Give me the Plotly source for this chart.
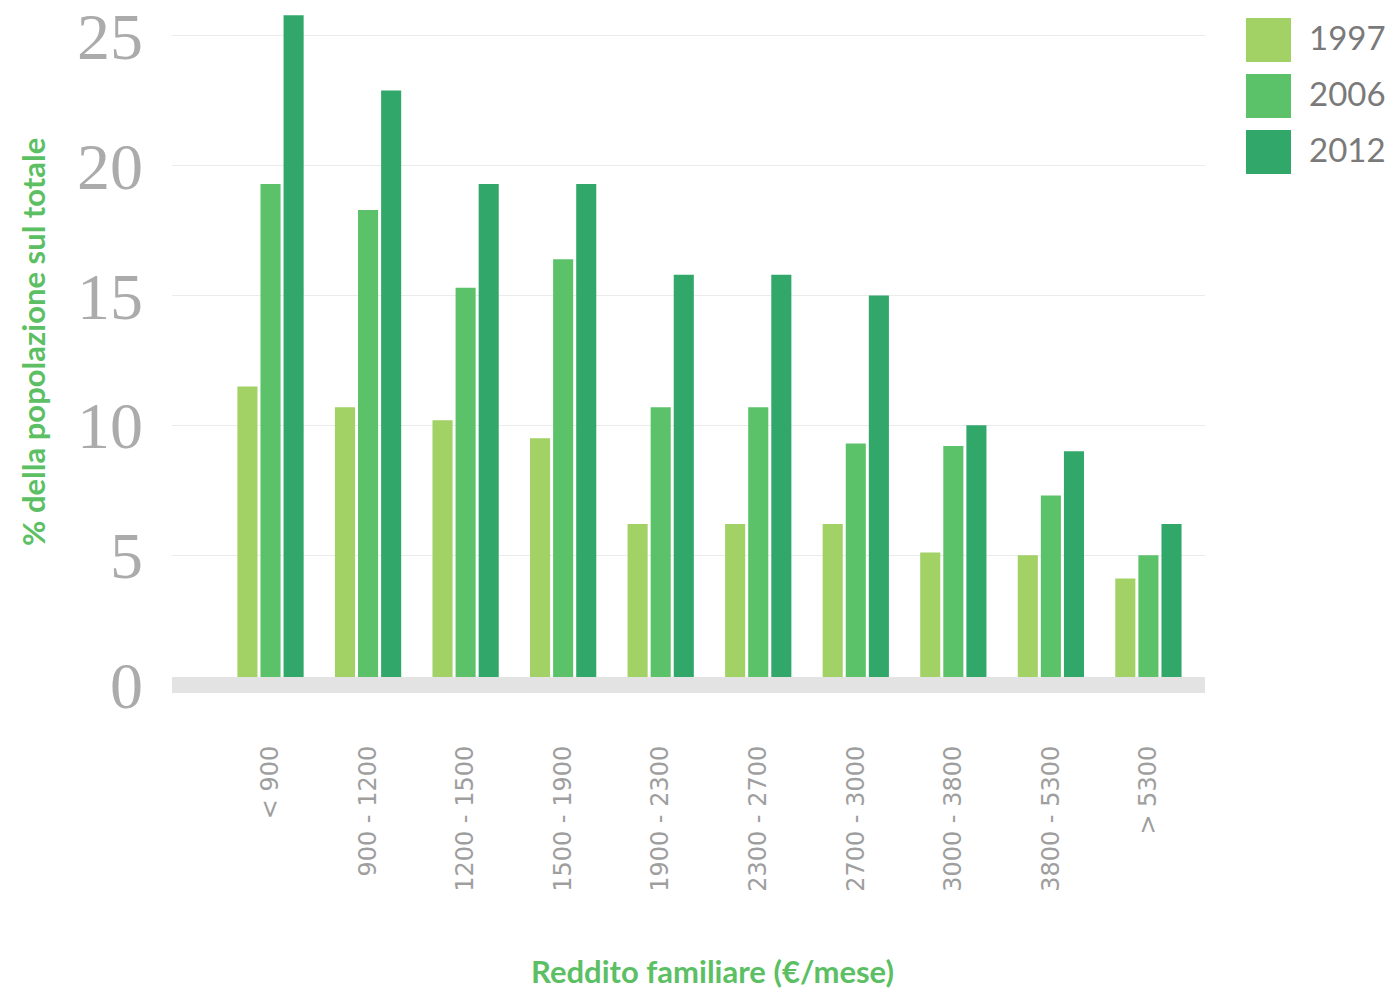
import plotly.graph_objects as go

# Income brackets (EUR per month) and share of population per survey year
categories = ["< 900", "900 - 1200", "1200 - 1500", "1500 - 1900", "1900 - 2300",
              "2300 - 2700", "2700 - 3000", "3000 - 3800", "3800 - 5300", "> 5300"]
years = ["1997", "2006", "2012"]
values_1997 = [11.5, 10.7, 10.2, 9.5, 6.2, 6.2, 6.2, 5.1, 5.0, 4.1]
values_2006 = [19.3, 18.3, 15.3, 16.4, 10.7, 10.7, 9.3, 9.2, 7.3, 5.0]
values_2012 = [25.8, 22.9, 19.3, 19.3, 15.8, 15.8, 15.0, 10.0, 9.0, 6.2]
y_ticks = [0, 5, 10, 15, 20, 25]

colors = ["#a2d165", "#5cc26a", "#31a86a"]
series = [values_1997, values_2006, values_2012]

W, H = 1394, 990
L, R, T, B = 172, 189, 10, 290
PW, PH = W - L - R, H - T - B


def px(x):
    return (x - L) / PW


def py(y):
    return (H - B - y) / PH


fig = go.Figure()
for name, vals, col in zip(years, series, colors):
    fig.add_trace(go.Bar(x=categories, y=vals, name=name, marker_color=col,
                         marker_line_width=0, showlegend=False))

shapes = [
    # thick baseline at zero
    dict(type="line", xref="paper", yref="y", x0=0, x1=1, y0=0, y1=0,
         line=dict(color="#e3e3e3", width=16), layer="above"),
]
annotations = []
# legend drawn as large swatches with labels
for i, (name, col) in enumerate(zip(years, colors)):
    top = 18 + i * 56
    shapes.append(dict(type="rect", xref="paper", yref="paper",
                       x0=px(1246), x1=px(1291), y0=py(top + 44), y1=py(top),
                       fillcolor=col, line_width=0))
    annotations.append(dict(text=name, xref="paper", yref="paper",
                            x=px(1307), y=py(top + 19), xanchor="left", yanchor="middle",
                            showarrow=False, font=dict(family="Lato", size=33, color="#7a7a7a")))

annotations.append(dict(text="<b>% della popolazione sul totale</b>", xref="paper", yref="paper",
                        x=px(33), y=py(342), textangle=-90, showarrow=False,
                        xanchor="center", yanchor="middle",
                        font=dict(family="Lato", size=31, color="#5cbf64")))
annotations.append(dict(text="<b>Reddito familiare (€/mese)</b>", xref="paper", yref="paper",
                        x=px(712), y=py(971), showarrow=False,
                        xanchor="center", yanchor="middle",
                        font=dict(family="Lato", size=31, color="#5cbf64")))

fig.update_layout(
    width=W, height=H,
    margin=dict(l=L, r=R, t=T, b=B, autoexpand=False),
    paper_bgcolor="white", plot_bgcolor="white",
    barmode="group", bargap=0.29, bargroupgap=0.13,
    shapes=shapes, annotations=annotations,
    xaxis=dict(type="category", range=[-1.01, 9.58], tickangle=-90,
               showgrid=False, zeroline=False, showline=False, ticks="",
               ticklabelstandoff=40,
               tickfont=dict(family="DejaVu Sans", size=24, color="#9e9e9e")),
    yaxis=dict(range=[-0.58, 26.0], tickvals=y_ticks, showgrid=True,
               gridcolor="#ebebeb", gridwidth=1, zeroline=False, showline=False,
               ticks="", ticklabelstandoff=28,
               tickfont=dict(family="Liberation Serif", size=66, color="#ababab")),
)

fig.write_html("out.html")
